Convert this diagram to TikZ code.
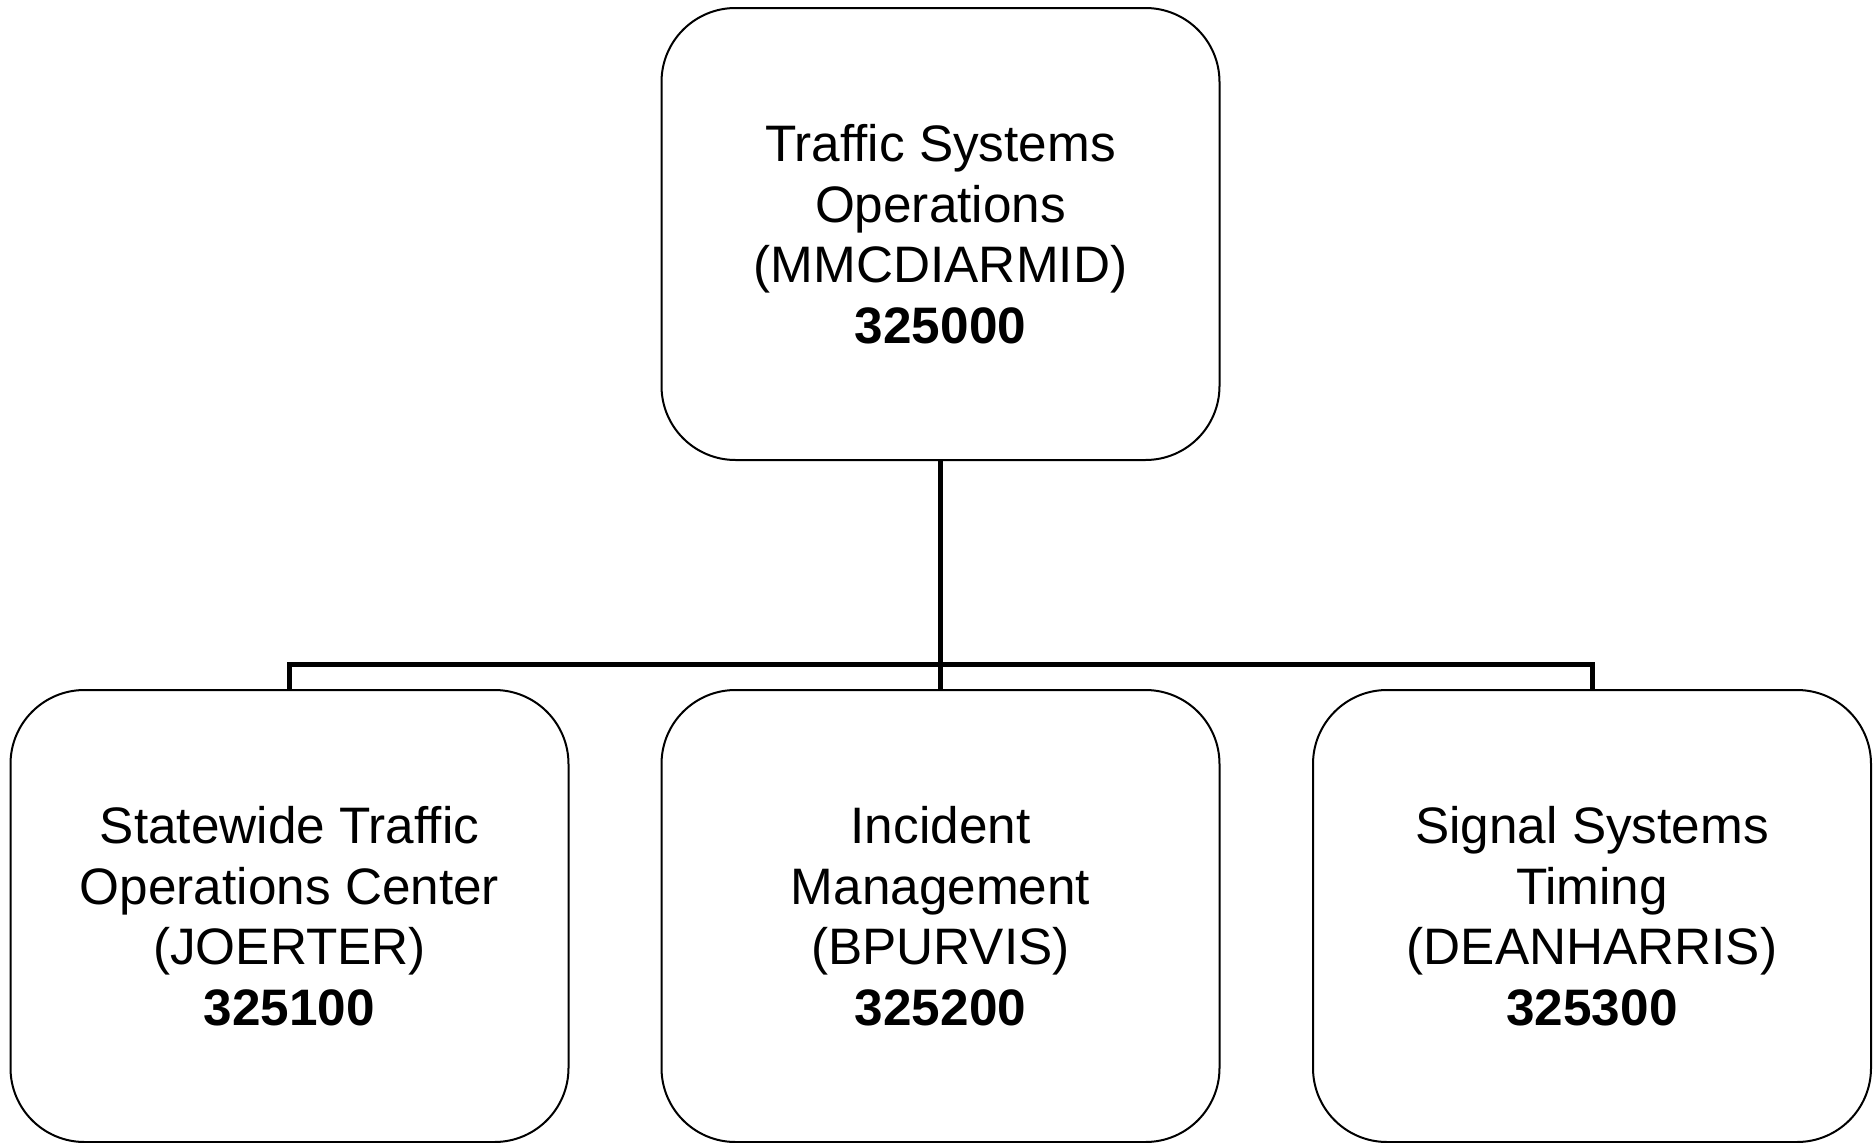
\documentclass[tikz,border=0pt]{standalone}
\usepackage{fontspec}
\setmainfont{Liberation Sans}
\begin{document}
\begin{tikzpicture}[x=1pt,y=-1pt,
  orgbox/.style={draw=black,line width=2pt,rounded corners=74pt,minimum width=558pt,minimum height=452pt,
    align=center,inner sep=0pt,font=\fontsize{51.3}{60.5}\selectfont},
  conn/.style={draw=black,line width=5pt}]
\useasboundingbox (0,0) rectangle (1875,1143);
\node[orgbox] (top) at (940.5,234) {Traffic Systems\\Operations\\(MMCDIARMID)\\\textbf{325000}};
\node[orgbox] (left) at (289.5,916) {Statewide Traffic\\Operations Center\\(JOERTER)\\\textbf{325100}};
\node[orgbox] (mid) at (940.5,916) {Incident\\Management\\(BPURVIS)\\\textbf{325200}};
\node[orgbox] (right) at (1592,916) {Signal Systems\\Timing\\(DEANHARRIS)\\\textbf{325300}};
\coordinate (bus) at (940.5,664);
\draw[conn] (top.south) -- (mid.north);
\draw[conn] (left.north) -- (left.north |- bus) -- (right.north |- bus) -- (right.north);
\end{tikzpicture}
\end{document}
